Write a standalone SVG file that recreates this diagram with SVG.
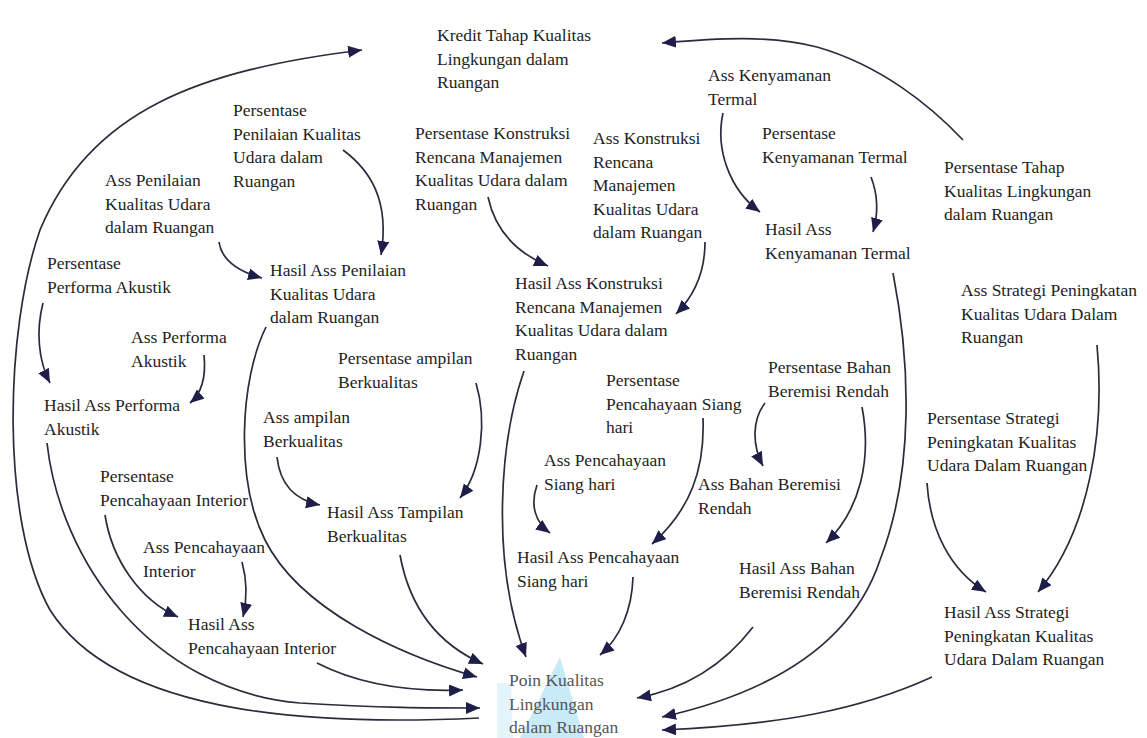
<svg xmlns="http://www.w3.org/2000/svg" width="1147" height="738" viewBox="0 0 1147 738">
<style>
text{font-family:"Liberation Serif","Times New Roman",serif;font-size:17.5px;fill:#1e1e1e}
.poin text{fill:#555}
.c path{fill:none;stroke:#2b2b3e;stroke-width:1.7}
.a{marker-end:url(#ah)}
</style>
<defs>
<marker id="ah" markerUnits="userSpaceOnUse" markerWidth="15" markerHeight="13" refX="14" refY="6" orient="auto">
<path d="M0,0 L14,6 L0,12 z" fill="#1e1e48"/>
</marker>
</defs>
<rect width="1147" height="738" fill="#fff"/>
<g id="watermark">
<polygon points="520,738 560,657 584,738" fill="#bfe6f6" opacity="0.85"/>
<polygon points="497,683 511,683 513,738 497,738" fill="#dcf2fa" opacity="0.8"/>
</g>
<g class="c" id="connectors">
<path d="M479,718 C330,725 120,720 50,610 C0,520 5,330 40,230 C90,110 200,70 362,50" class="a"/>
<path d="M343,150 C370,170 390,200 381,255" class="a"/>
<path d="M219,242 C222,262 240,272 262,278" class="a"/>
<path d="M43,303 C36,330 38,360 50,383" class="a"/>
<path d="M204,355 C206,375 202,393 190,403" class="a"/>
<path d="M105,515 C112,560 140,600 178,617" class="a"/>
<path d="M242,562 C247,580 247,600 243,617" class="a"/>
<path d="M317,663 C360,685 410,692 463,690" class="a"/>
<path d="M277,457 C280,485 295,500 320,505" class="a"/>
<path d="M476,383 C487,420 482,470 460,498" class="a"/>
<path d="M400,555 C410,610 440,645 483,664" class="a"/>
<path d="M266,327 C240,380 235,480 265,540 C300,610 400,655 477,677" class="a"/>
<path d="M47,443 C60,560 150,690 300,703 C380,708 430,708 480,708" class="a"/>
<path d="M488,197 C495,230 515,252 548,266" class="a"/>
<path d="M705,242 C705,270 695,295 676,314" class="a"/>
<path d="M524,371 C500,440 490,560 526,657" class="a"/>
<path d="M723,113 C715,150 730,190 760,212" class="a"/>
<path d="M871,177 C878,195 878,215 873,232" class="a"/>
<path d="M963,140 C930,105 880,65 817,47 C770,35 720,38 662,43" class="a"/>
<path d="M893,273 C910,360 915,470 880,560 C850,650 760,695 662,717" class="a"/>
<path d="M753,627 C720,670 680,690 637,698" class="a"/>
<path d="M932,677 C860,710 780,725 662,730" class="a"/>
<path d="M703,418 C705,470 690,510 652,544" class="a"/>
<path d="M537,485 C530,505 535,522 550,533" class="a"/>
<path d="M633,577 C632,610 620,638 600,655" class="a"/>
<path d="M765,403 C752,420 752,445 763,466" class="a"/>
<path d="M862,407 C872,460 860,510 826,543" class="a"/>
<path d="M1097,345 C1105,430 1090,530 1038,592" class="a"/>
<path d="M927,483 C930,530 950,570 986,592" class="a"/>
</g>
<g id="n-kredit"><text x="437" y="41"><tspan x="437">Kredit Tahap Kualitas</tspan><tspan x="437" dy="23.5">Lingkungan dalam</tspan><tspan x="437" dy="23.5">Ruangan</tspan></text></g>
<g id="n-pers-penilaian"><text x="233" y="116"><tspan x="233">Persentase</tspan><tspan x="233" dy="23.5">Penilaian Kualitas</tspan><tspan x="233" dy="23.5">Udara dalam</tspan><tspan x="233" dy="23.5">Ruangan</tspan></text></g>
<g id="n-ass-penilaian"><text x="105" y="186"><tspan x="105">Ass Penilaian</tspan><tspan x="105" dy="23.5">Kualitas Udara</tspan><tspan x="105" dy="23.5">dalam Ruangan</tspan></text></g>
<g id="n-pers-konstruksi"><text x="415" y="139"><tspan x="415">Persentase Konstruksi</tspan><tspan x="415" dy="23.5">Rencana Manajemen</tspan><tspan x="415" dy="23.5">Kualitas Udara dalam</tspan><tspan x="415" dy="23.5">Ruangan</tspan></text></g>
<g id="n-ass-konstruksi"><text x="593" y="144"><tspan x="593">Ass Konstruksi</tspan><tspan x="593" dy="23.5">Rencana</tspan><tspan x="593" dy="23.5">Manajemen</tspan><tspan x="593" dy="23.5">Kualitas Udara</tspan><tspan x="593" dy="23.5">dalam Ruangan</tspan></text></g>
<g id="n-ass-kenyamanan"><text x="708" y="81"><tspan x="708">Ass Kenyamanan</tspan><tspan x="708" dy="23.5">Termal</tspan></text></g>
<g id="n-pers-kenyamanan"><text x="762" y="139"><tspan x="762">Persentase</tspan><tspan x="762" dy="23.5">Kenyamanan Termal</tspan></text></g>
<g id="n-hasil-kenyamanan"><text x="765" y="235"><tspan x="765">Hasil Ass</tspan><tspan x="765" dy="23.5">Kenyamanan Termal</tspan></text></g>
<g id="n-pers-tahap"><text x="944" y="173"><tspan x="944">Persentase Tahap</tspan><tspan x="944" dy="23.5">Kualitas Lingkungan</tspan><tspan x="944" dy="23.5">dalam Ruangan</tspan></text></g>
<g id="n-pers-akustik"><text x="47" y="269"><tspan x="47">Persentase</tspan><tspan x="47" dy="23.5">Performa Akustik</tspan></text></g>
<g id="n-hasil-penilaian"><text x="270" y="276"><tspan x="270">Hasil Ass Penilaian</tspan><tspan x="270" dy="23.5">Kualitas Udara</tspan><tspan x="270" dy="23.5">dalam Ruangan</tspan></text></g>
<g id="n-ass-akustik"><text x="131" y="343"><tspan x="131">Ass Performa</tspan><tspan x="131" dy="23.5">Akustik</tspan></text></g>
<g id="n-hasil-akustik"><text x="44" y="411"><tspan x="44">Hasil Ass Performa</tspan><tspan x="44" dy="23.5">Akustik</tspan></text></g>
<g id="n-pers-tampilan"><text x="338" y="364"><tspan x="338">Persentase ampilan</tspan><tspan x="338" dy="23.5">Berkualitas</tspan></text></g>
<g id="n-ass-tampilan"><text x="263" y="423"><tspan x="263">Ass ampilan</tspan><tspan x="263" dy="23.5">Berkualitas</tspan></text></g>
<g id="n-hasil-konstruksi"><text x="515" y="289"><tspan x="515">Hasil Ass Konstruksi</tspan><tspan x="515" dy="23.5">Rencana Manajemen</tspan><tspan x="515" dy="23.5">Kualitas Udara dalam</tspan><tspan x="515" dy="23.5">Ruangan</tspan></text></g>
<g id="n-pers-siang"><text x="606" y="386"><tspan x="606">Persentase</tspan><tspan x="606" dy="23.5">Pencahayaan Siang</tspan><tspan x="606" dy="23.5">hari</tspan></text></g>
<g id="n-ass-siang"><text x="544" y="466"><tspan x="544">Ass Pencahayaan</tspan><tspan x="544" dy="23.5">Siang hari</tspan></text></g>
<g id="n-pers-bahan"><text x="768" y="373"><tspan x="768">Persentase Bahan</tspan><tspan x="768" dy="23.5">Beremisi Rendah</tspan></text></g>
<g id="n-ass-bahan"><text x="698" y="490"><tspan x="698">Ass Bahan Beremisi</tspan><tspan x="698" dy="23.5">Rendah</tspan></text></g>
<g id="n-hasil-siang"><text x="517" y="563"><tspan x="517">Hasil Ass Pencahayaan</tspan><tspan x="517" dy="23.5">Siang hari</tspan></text></g>
<g id="n-hasil-bahan"><text x="739" y="574"><tspan x="739">Hasil Ass Bahan</tspan><tspan x="739" dy="23.5">Beremisi Rendah</tspan></text></g>
<g id="n-ass-strategi"><text x="961" y="296"><tspan x="961">Ass Strategi Peningkatan</tspan><tspan x="961" dy="23.5">Kualitas Udara Dalam</tspan><tspan x="961" dy="23.5">Ruangan</tspan></text></g>
<g id="n-pers-strategi"><text x="927" y="424"><tspan x="927">Persentase Strategi</tspan><tspan x="927" dy="23.5">Peningkatan Kualitas</tspan><tspan x="927" dy="23.5">Udara Dalam Ruangan</tspan></text></g>
<g id="n-hasil-strategi"><text x="944" y="618"><tspan x="944">Hasil Ass Strategi</tspan><tspan x="944" dy="23.5">Peningkatan Kualitas</tspan><tspan x="944" dy="23.5">Udara Dalam Ruangan</tspan></text></g>
<g id="n-pers-interior"><text x="100" y="482"><tspan x="100">Persentase</tspan><tspan x="100" dy="23.5">Pencahayaan Interior</tspan></text></g>
<g id="n-ass-interior"><text x="143" y="553"><tspan x="143">Ass Pencahayaan</tspan><tspan x="143" dy="23.5">Interior</tspan></text></g>
<g id="n-hasil-interior"><text x="188" y="630"><tspan x="188">Hasil Ass</tspan><tspan x="188" dy="23.5">Pencahayaan Interior</tspan></text></g>
<g id="n-hasil-tampilan"><text x="327" y="518"><tspan x="327">Hasil Ass Tampilan</tspan><tspan x="327" dy="23.5">Berkualitas</tspan></text></g>
<g id="n-poin" class="poin"><text x="509" y="686"><tspan x="509">Poin Kualitas</tspan><tspan x="509" dy="23.5">Lingkungan</tspan><tspan x="509" dy="23.5">dalam Ruangan</tspan></text></g>
</svg>
